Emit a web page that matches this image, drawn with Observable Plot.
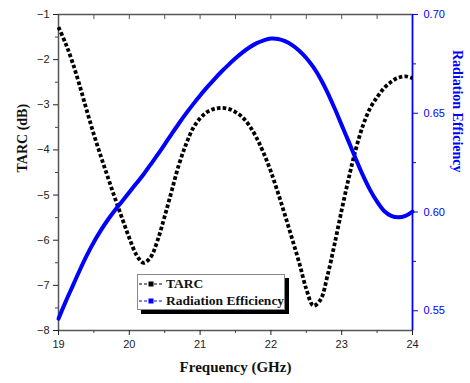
<!DOCTYPE html>
<html><head><meta charset="utf-8">
<script src="https://cdn.jsdelivr.net/npm/d3@7"></script>
<script src="https://cdn.jsdelivr.net/npm/@observablehq/plot@0.6"></script>
<style>
body{margin:0;background:#fff;}
#wrap{position:relative;width:470px;height:383px;}
#legend{position:absolute;left:137px;top:274px;width:146px;height:34px;border:1px solid #888;background:#fff;box-shadow:4px 4px 0 #000;
 font-family:'Liberation Serif','Times New Roman',serif;font-weight:bold;font-size:13.5px;color:#111;}
#legend .row{display:flex;align-items:center;height:17px;white-space:nowrap;}
#legend svg{margin-left:1px;margin-right:3px;flex:none;}
</style></head><body><div id="wrap"></div>
<script>
const freq = [19.0,19.1,19.2,19.3,19.4,19.5,19.6,19.7,19.8,19.9,
  20.0,20.1,20.2,20.3,20.4,20.5,20.6,20.7,20.8,20.9,
  21.0,21.1,21.2,21.3,21.4,21.5,21.6,21.7,21.8,21.9,
  22.0,22.1,22.2,22.3,22.4,22.5,22.6,22.7,22.8,22.9,
  23.0,23.1,23.2,23.3,23.4,23.5,23.6,23.7,23.8,23.9,24.0];
const tarc = [-1.28,-1.64,-2.07,-2.58,-3.13,-3.66,-4.15,-4.62,-5.08,-5.52,
  -5.95,-6.32,-6.50,-6.38,-6.00,-5.47,-4.90,-4.33,-3.88,-3.52,
  -3.30,-3.16,-3.09,-3.07,-3.09,-3.16,-3.28,-3.47,-3.74,-4.08,
  -4.48,-4.95,-5.45,-5.97,-6.50,-7.08,-7.45,-7.32,-6.78,-6.08,
  -5.33,-4.62,-3.98,-3.46,-3.08,-2.83,-2.63,-2.49,-2.40,-2.37,-2.41];
const efficiency = [0.546,0.5545,0.5625,0.5705,0.578,0.5848,0.5908,0.5962,0.601,0.6055,
  0.610,0.6145,0.619,0.624,0.629,0.6343,0.6396,0.6448,0.6498,0.6545,
  0.659,0.6632,0.6672,0.671,0.6745,0.6778,0.6808,0.6834,0.6855,0.6869,
  0.6878,0.6876,0.6865,0.6845,0.6817,0.678,0.6733,0.6675,0.6605,0.6525,
  0.644,0.6355,0.6268,0.6185,0.6112,0.6052,0.6005,0.598,0.5973,0.598,0.6002];
const xTicks = [19,20,21,22,23,24];
const xMinor = [19.5,20.5,21.5,22.5,23.5];
const tarcTicks = [-8,-7,-6,-5,-4,-3,-2,-1];
const tarcMinor = [-7.5,-6.5,-5.5,-4.5,-3.5,-2.5,-1.5];
const effTicks = [0.55,0.60,0.65,0.70];
const effMinor = [0.575,0.625,0.675];
const tarcDomain = [-8,-1];
const effDomain = [0.54,0.70];
const seriesNames = ["TARC","Radiation Efficiency"];
const seriesColors = ["#000000","#0000ff"];
const titles = {x:"Frequency (GHz)", yLeft:"TARC (dB)", yRight:"Radiation Efficiency"};

const toLeft = d3.scaleLinear().domain(effDomain).range(tarcDomain);
const data = freq.map((f,i)=>({f, tarc:tarc[i], eff:efficiency[i]}));
const serif = "'Liberation Serif','Times New Roman',serif";
const blue = seriesColors[1];

const plot = Plot.plot({
  width:470, height:383,
  marginLeft:58, marginRight:58, marginTop:14, marginBottom:53,
  style:{fontFamily:"'Liberation Sans',Arial,sans-serif", fontSize:"11px", background:"white", overflow:"visible"},
  x:{domain:[xTicks[0], xTicks[xTicks.length-1]], label:null, axis:null},
  y:{domain:tarcDomain, label:null, axis:null},
  marks:[
    Plot.frame({stroke:"#555", strokeWidth:1.5}),
    Plot.axisX({anchor:"bottom", ticks:xTicks, tickSize:5, tickPadding:5, tickFormat:d3.format("d"), color:"#222", label:null}),
    Plot.axisX({anchor:"bottom", ticks:xMinor, tickSize:3, fill:"none", stroke:"#444", label:null}),
    Plot.axisX({anchor:"top", ticks:xTicks.concat(xMinor), tickSize:4, dy:4, fill:"none", stroke:"#555", label:null}),
    Plot.axisY({anchor:"left", ticks:tarcTicks, tickSize:5, tickPadding:4, tickFormat:d3.format("d"), color:"#222", label:null}),
    Plot.axisY({anchor:"left", ticks:tarcMinor, tickSize:3, fill:"none", stroke:"#444", label:null}),
    Plot.axisY({anchor:"right", ticks:effTicks.map(toLeft), tickSize:5, tickPadding:6, tickFormat:d=>d3.format(".2f")(toLeft.invert(d)), color:blue, label:null}),
    Plot.axisY({anchor:"right", ticks:effMinor.map(toLeft), tickSize:3, fill:"none", stroke:blue, label:null}),
    Plot.ruleX([xTicks[xTicks.length-1]], {stroke:blue, strokeWidth:1.5}),
    Plot.line(data, {x:"f", y:"tarc", stroke:seriesColors[0], strokeWidth:3.8, strokeDasharray:"3.6,2.2", strokeLinecap:"butt", strokeLinejoin:"miter", curve:"catmull-rom"}),
    Plot.line(data, {x:"f", y:d=>toLeft(d.eff), stroke:blue, strokeWidth:4, curve:"catmull-rom"}),
    Plot.text([titles.yLeft], {text:d=>d, frameAnchor:"left", dx:-36, rotate:-90, fontFamily:serif, fontWeight:"bold", fontSize:14, fill:"#111"}),
    Plot.text([titles.x], {text:d=>d, frameAnchor:"bottom", dy:41, fontFamily:serif, fontWeight:"bold", fontSize:15, fill:"#111"}),
    Plot.text([titles.yRight], {text:d=>d, frameAnchor:"right", dx:45, rotate:90, fontFamily:serif, fontWeight:"bold", fontSize:14, fill:blue})
  ]
});
const wrap = document.getElementById("wrap");
wrap.appendChild(plot);

const legend = document.createElement("div");
legend.id = "legend";
seriesNames.forEach((name,i)=>{
  const row = document.createElement("div");
  row.className = "row";
  row.innerHTML = `<svg width="24" height="10"><line x1="0" y1="5" x2="24" y2="5" stroke="${seriesColors[i]}" stroke-width="1" stroke-dasharray="3,2"/><rect x="9.5" y="2.5" width="5" height="5" fill="${seriesColors[i]}"/></svg>`;
  const span = document.createElement("span");
  span.textContent = name;
  row.appendChild(span);
  legend.appendChild(row);
});
wrap.appendChild(legend);
</script>
</body></html>
